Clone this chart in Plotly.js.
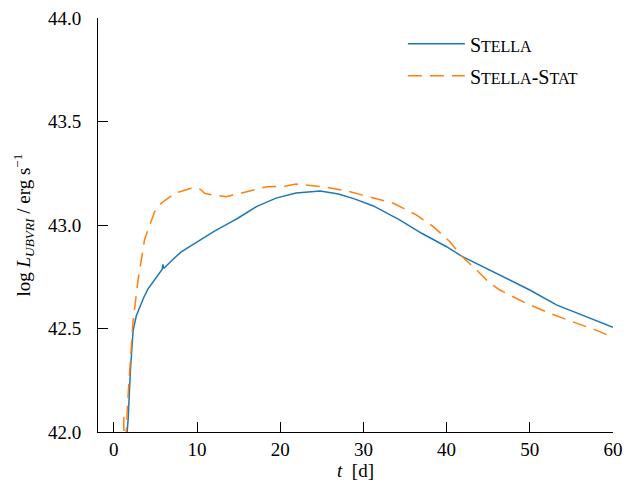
<!DOCTYPE html>
<html>
<head>
<meta charset="utf-8">
<script src="https://cdn.plot.ly/plotly-3.0.1.min.js"></script>
<style>html,body{margin:0;padding:0;background:#fff;}#chart{width:626px;height:494px;}</style>
</head>
<body>
<div id="chart"></div>
<script>
// STELLA
const stellaT = [1.35, 1.5, 1.72, 2.0, 2.32, 2.7, 3.1, 3.6, 4.1, 5.0, 5.8, 5.9, 6.0, 7.0, 8.1, 9.5, 10.9, 12.1, 13.9, 15.0, 17.2, 19.5, 21.9, 24.8, 27.0, 29.0, 31.2, 34.4, 37.0, 40.0, 41.8, 44.0, 46.0, 50.0, 53.2, 56.8, 60.0];
const stellaL = [41.8, 41.95, 42.06, 42.3, 42.49, 42.56, 42.6, 42.65, 42.69, 42.74, 42.785, 42.81, 42.79, 42.83, 42.87, 42.905, 42.94, 42.97, 43.01, 43.035, 43.09, 43.13, 43.155, 43.164, 43.15, 43.125, 43.092, 43.024, 42.96, 42.895, 42.85, 42.805, 42.767, 42.686, 42.614, 42.557, 42.506];
// STELLA-STAT
const statT = [1.15, 1.2, 1.25, 1.7, 2.3, 2.9, 3.7, 4.9, 5.7, 7.3, 9.3, 10.0, 10.5, 10.9, 11.9, 13.5, 15.5, 18.4, 20.7, 21.9, 23.1, 25.6, 28.4, 31.2, 33.6, 36.4, 38.4, 40.4, 41.8, 44.0, 45.0, 46.4, 47.6, 49.4, 52.4, 55.2, 58.4, 60.0];
const statL = [42.07, 42.07, 41.8, 42.17, 42.53, 42.73, 42.93, 43.064, 43.105, 43.153, 43.177, 43.18, 43.17, 43.153, 43.145, 43.137, 43.156, 43.185, 43.188, 43.198, 43.193, 43.182, 43.161, 43.129, 43.105, 43.048, 42.992, 42.919, 42.85, 42.767, 42.726, 42.686, 42.662, 42.625, 42.573, 42.533, 42.485, 42.457];

const xTicks = [0, 10, 20, 30, 40, 50, 60];
const yTicks = [42.0, 42.5, 43.0, 43.5, 44.0];
const yTickText = ['42.0', '42.5', '43.0', '43.5', '44.0'];

const traces = [
  {x: stellaT, y: stellaL, mode: 'lines', legendgroup: 'a',
   name: 'S<span style="font-size:16px">TELLA</span>',
   line: {color: '#1f77b4', width: 1.5}},
  {x: statT, y: statL, mode: 'lines', legendgroup: 'b',
   name: 'S<span style="font-size:16px">TELLA</span>-S<span style="font-size:16px">TAT</span>',
   line: {color: '#ff7f0e', width: 1.5, dash: '14px,8px'}}
];

const layout = {
  width: 626, height: 494,
  margin: {l: 98, r: 13, t: 18, b: 62},
  paper_bgcolor: '#fff', plot_bgcolor: '#fff',
  font: {family: 'Liberation Serif', size: 16, color: '#000'},
  showlegend: true,
  legend: {x: 0.592, y: 0.985, xanchor: 'left', yanchor: 'top', bgcolor: 'rgba(0,0,0,0)',
           font: {family: 'Tinos', size: 20}, itemwidth: 57, tracegroupgap: 3},
  xaxis: {range: [-1.9, 60], tickvals: xTicks, ticktext: xTicks.map(String),
          ticks: 'inside', ticklen: 10, tickwidth: 1, tickcolor: '#000',
          tickfont: {family: 'Times New Roman', size: 19},
          showline: true, linecolor: '#000', linewidth: 1, mirror: false,
          showgrid: false, zeroline: false,
          title: {text: '<i>t</i>  [d]', standoff: 0}},
  yaxis: {range: [42, 44], tickvals: yTicks, ticktext: yTickText,
          ticks: 'inside', ticklen: 10, tickwidth: 1, tickcolor: '#000',
          tickfont: {family: 'Times New Roman', size: 19},
          showline: true, linecolor: '#000', linewidth: 1, mirror: false,
          showgrid: false, zeroline: false, ticklabelstandoff: 12,
          title: {text: 'log <i>L</i><sub><i>UBVRI</i></sub> / erg s<sup>\u22121</sup>', standoff: 12}}
};

Plotly.newPlot('chart', traces, layout, {displayModeBar: false, staticPlot: true});
</script>
</body>
</html>
